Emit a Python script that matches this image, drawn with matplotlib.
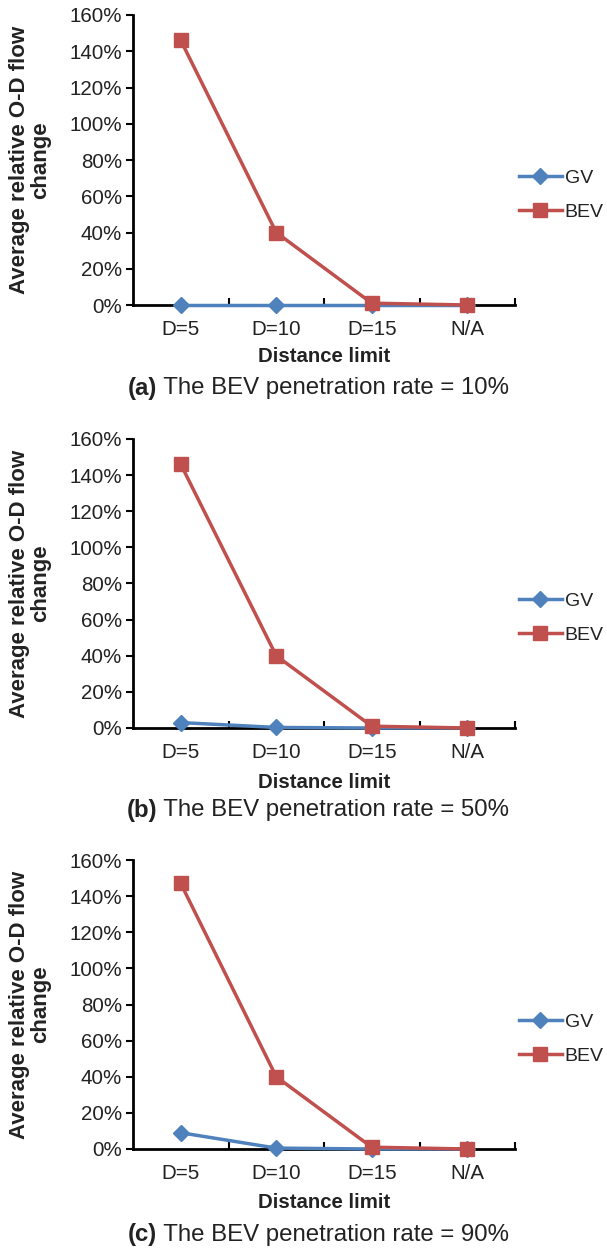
import matplotlib
matplotlib.use("Agg")
import matplotlib.pyplot as plt
from matplotlib.ticker import FuncFormatter, FixedLocator

plt.rcParams['font.family'] = ['Liberation Sans', 'DejaVu Sans']

categories = ["D=5", "D=10", "D=15", "N/A"]
y_ticks = [0.0, 0.2, 0.4, 0.6, 0.8, 1.0, 1.2, 1.4, 1.6]

# Average relative O-D flow change per penetration rate
gv_10 = [0.0, 0.0, 0.0, 0.0]
bev_10 = [1.46, 0.40, 0.01, 0.0]
gv_50 = [0.03, 0.003, 0.0, 0.0]
bev_50 = [1.46, 0.40, 0.01, 0.0]
gv_90 = [0.09, 0.005, 0.0, 0.0]
bev_90 = [1.47, 0.40, 0.01, 0.0]

panel_tags = ["(a)", "(b)", "(c)"]
panel_texts = [" The BEV penetration rate = 10%",
               " The BEV penetration rate = 50%",
               " The BEV penetration rate = 90%"]

GV_COLOR = "#4F81BD"
BEV_COLOR = "#C0504D"
TEXT_COLOR = "#222222"

W, H = 607, 1249
fig = plt.figure(figsize=(W / 100, H / 100), dpi=100)

# pixel boxes: (left, top, right, bottom)
boxes = [(133, 15, 515, 305), (133, 439, 515, 728), (133, 860, 515, 1149)]
series = [(gv_10, bev_10), (gv_50, bev_50), (gv_90, bev_90)]

caption_y = [388, 810, 1235]
xlabel_y = [357, 782, 1203]

fig.canvas.draw()
renderer = fig.canvas.get_renderer()

for i, ((l, t, r, b), (gv, bev)) in enumerate(zip(boxes, series)):
    ax = fig.add_axes([l / W, 1 - b / H, (r - l) / W, (b - t) / H])
    x = list(range(len(categories)))
    ax.plot(x, gv, color=GV_COLOR, lw=2.5, marker="D", ms=8,
            label="GV", clip_on=False, zorder=3)
    ax.plot(x, bev, color=BEV_COLOR, lw=2.5, marker="s", ms=9.5,
            label="BEV", clip_on=False, zorder=4)
    ax.set_xlim(-0.5, 3.5)
    ax.set_ylim(0, 1.6)
    ax.set_yticks(y_ticks)
    ax.yaxis.set_major_formatter(FuncFormatter(lambda v, p: f"{v * 100:.0f}%"))
    ax.set_xticks(x)
    ax.set_xticklabels(categories)
    ax.xaxis.set_minor_locator(FixedLocator([0.5, 1.5, 2.5, 3.5]))
    ax.tick_params(axis="x", which="major", length=0, pad=11, labelsize=14.8,
                   labelcolor=TEXT_COLOR)
    ax.tick_params(axis="x", which="minor", direction="in", length=5, width=1.5,
                   color="black")
    ax.tick_params(axis="y", direction="out", length=5, width=1.5, pad=3,
                   labelsize=14.8, labelcolor=TEXT_COLOR, color="black")
    for s in ("top", "right"):
        ax.spines[s].set_visible(False)
    for s in ("left", "bottom"):
        ax.spines[s].set_linewidth(2)
        ax.spines[s].set_color("black")

    fig.text(30 / W, 1 - (t + b) / 2 / H, "Average relative O-D flow\nchange",
             rotation=90, ha="center", va="center", fontsize=16,
             fontweight="bold", linespacing=1.05, color=TEXT_COLOR)

    ax.legend(loc="center left", bbox_to_anchor=(1.01, 0.38),
              frameon=False, fontsize=14, handlelength=2.2,
              handletextpad=0.15, labelspacing=0.85, borderaxespad=0,
              borderpad=0, labelcolor=TEXT_COLOR)

    fig.text((l + r) / 2 / W, 1 - xlabel_y[i] / H, "Distance limit",
             ha="center", va="center", fontsize=14.7, fontweight="bold",
             color=TEXT_COLOR)

    # caption: bold tag followed by regular text, centred as one line
    tag = fig.text(0, 0, panel_tags[i], fontsize=17.3, fontweight="bold",
                   color=TEXT_COLOR)
    body = fig.text(0, 0, panel_texts[i], fontsize=17.3, color=TEXT_COLOR)
    wt = tag.get_window_extent(renderer).width
    wb = body.get_window_extent(renderer).width
    cx = 318
    x0 = cx - (wt + wb) / 2
    yc = 1 - caption_y[i] / H
    tag.set_position((x0 / W, yc))
    tag.set_va("center")
    body.set_position(((x0 + wt) / W, yc))
    body.set_va("center")

fig.savefig("out.png", dpi=100)
